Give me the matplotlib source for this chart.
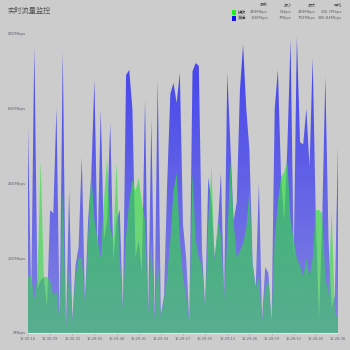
import numpy as np
import matplotlib
matplotlib.use('Agg')
import matplotlib.pyplot as plt
from matplotlib.patches import Polygon, Rectangle

plt.rcParams['font.family'] = ['Noto Sans CJK SC', 'DejaVu Sans']

title = '实时流量监控'
series_names = ['接收', '发送']
stat_headers = ['最新', '最小', '最大', '平均']
recv_stats = ['469Mbps', '0kbps', '469Mbps', '236.7Mbps']
send_stats = ['156Mbps', '7Mbps', '792Mbps', '380.84Mbps']
tick_labels = ['16:30:16', '16:30:09', '16:30:02', '16:29:55', '16:29:48', '16:29:41',
               '16:29:34', '16:29:27', '16:29:20', '16:29:13', '16:29:06', '16:28:59',
               '16:28:52', '16:28:45', '16:28:38']
y_ticks = [0, 200, 400, 600, 800]
y_labels = ['0Mbps', '200Mbps', '400Mbps', '600Mbps', '800Mbps']

# send (blue) and receive (green), Mbps, one per second
send = [550, 100, 766, 120, 140, 150, 70, 329, 320, 602,
        35, 753, 10, 383, 37, 180, 230, 470, 85, 300,
        420, 677, 220, 597, 250, 300, 562, 195, 300, 330,
        62, 690, 704, 600, 200, 250, 160, 623, 53, 570,
        40, 677, 50, 100, 400, 640, 669, 615, 696, 290,
        200, 30, 700, 722, 715, 222, 72, 417, 350, 200,
        280, 428, 100, 696, 500, 300, 350, 650, 771, 600,
        490, 187, 123, 401, 38, 177, 160, 30, 600, 704,
        417, 300, 500, 784, 200, 792, 510, 505, 600, 444,
        736, 300, 37, 300, 686, 250, 67, 100, 498]
recv = [150, 155, 90, 150, 463, 150, 150, 140, 100, 110,
        30, 383, 5, 180, 30, 150, 200, 200, 80, 250,
        428, 300, 250, 200, 350, 469, 280, 250, 455, 200,
        60, 260, 350, 410, 380, 415, 350, 300, 50, 250,
        35, 200, 40, 90, 150, 250, 380, 428, 250, 150,
        100, 25, 428, 250, 200, 180, 65, 300, 445, 190,
        300, 260, 90, 250, 460, 300, 200, 220, 240, 280,
        380, 180, 120, 150, 30, 120, 140, 30, 250, 350,
        417, 430, 457, 300, 250, 200, 180, 150, 200, 150,
        200, 329, 329, 320, 150, 100, 329, 60, 30]

BG = '#cccccc'
fig = plt.figure(figsize=(3.5, 3.5), dpi=100, facecolor=BG)
ax = fig.add_axes([0.08, 0.0486, 0.8857, 0.8543], facecolor=BG)

x = np.arange(len(send))
ymax = 800


def grad_fill(xv, yv, c_bot, c_top, a_bot, a_top, z):
    verts = np.column_stack([np.r_[xv, xv[::-1]], np.r_[yv, np.zeros(len(yv))]])
    patch = Polygon(verts, closed=True, facecolor='none', edgecolor='none',
                    transform=ax.transData)
    ax.add_patch(patch)
    n = 256
    t = np.linspace(0, 1, n)[:, None]
    rgba = np.zeros((n, 1, 4))
    for k in range(3):
        rgba[:, :, k] = c_bot[k] + (c_top[k] - c_bot[k]) * t
    rgba[:, :, 3] = a_bot + (a_top - a_bot) * t
    im = ax.imshow(rgba, extent=[xv[0], xv[-1], 0, ymax], origin='lower',
                   aspect='auto', zorder=z, interpolation='bilinear')
    im.set_clip_path(patch)


grad_fill(x, np.array(send, float), (0.52, 0.52, 0.88), (0.25, 0.25, 0.93), 1.0, 1.0, 2)
grad_fill(x, np.array(recv, float), (0.2, 0.82, 0.3), (0.2, 0.95, 0.2), 0.55, 0.8, 3)

ax.set_xlim(0, len(send) - 1)
ax.set_ylim(0, ymax)
for s in ['top', 'left', 'right']:
    ax.spines[s].set_visible(False)
ax.spines['bottom'].set_color('#e6e6e6')
ax.spines['bottom'].set_linewidth(0.8)
ax.set_xticks(np.arange(0, len(send), 7))
ax.set_xticklabels(tick_labels, fontsize=2.6, color='#666677', family='DejaVu Sans')
ax.set_yticks(y_ticks)
ax.set_yticklabels(y_labels, fontsize=2.9, color='#666677', family='DejaVu Sans')
ax.tick_params(axis='x', length=1.5, width=0.4, color='#999999', pad=1.3)
ax.tick_params(axis='y', length=0, pad=1.5)

# title
fig.text(7 / 350, 1 - 11 / 350, title, fontsize=5.2, color='#555555', va='center', ha='left')

# legend table
col_x = [268, 292, 316, 342]
for cx, h in zip(col_x, stat_headers):
    fig.text(cx / 350, 1 - 5.5 / 350, h, fontsize=3.0, color='#555555', ha='right', va='center')
rows = [(series_names[0], '#22ee22', recv_stats, 12.5), (series_names[1], '#1111ee', send_stats, 18.5)]
for name, col, stats, yy in rows:
    fig.patches.append(Rectangle(((232) / 350, 1 - (yy + 2) / 350), 4 / 350, 4 / 350,
                                 transform=fig.transFigure, facecolor=col, edgecolor='none'))
    fig.text(237.5 / 350, 1 - yy / 350, name, fontsize=3.0, color='#333333', ha='left', va='center')
    for cx, v in zip(col_x, stats):
        fig.text(cx / 350, 1 - yy / 350, v, fontsize=2.8, color='#666666', ha='right', va='center',
                 family='DejaVu Sans')

fig.savefig('out.png', dpi=100, facecolor=BG)
